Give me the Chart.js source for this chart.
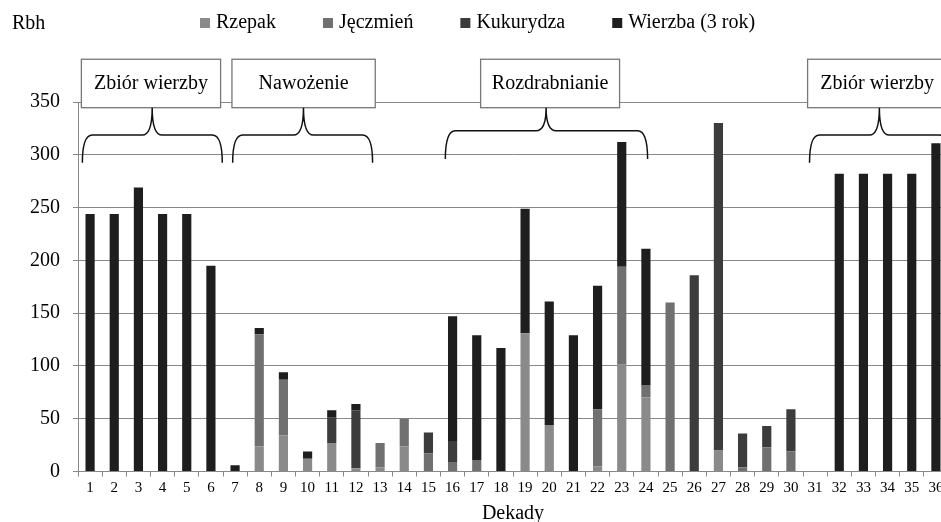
<!DOCTYPE html>
<html>
<head>
<meta charset="utf-8">
<script src="https://cdn.jsdelivr.net/npm/chart.js@4/dist/chart.umd.min.js"></script>
<style>
  html, body { margin: 0; padding: 0; background: #fff; overflow: hidden; }
</style>
</head>
<body>
<canvas id="rbhChart" width="950" height="522"></canvas>
<script>
// Dekady (1..36)
const dekady = ['1', '2', '3', '4', '5', '6', '7', '8', '9', '10', '11', '12',
  '13', '14', '15', '16', '17', '18', '19', '20', '21', '22', '23', '24',
  '25', '26', '27', '28', '29', '30', '31', '32', '33', '34', '35', '36'];

// Rbh for each crop
const rzepak = [0, 0, 0, 0, 0, 0, 0, 24, 34, 12, 27, 3,
  4, 24, 0, 0, 0, 0, 131, 44, 0, 5, 101, 70,
  0, 0, 20, 0, 0, 0, 0, 0, 0, 0, 0, 0];
const jeczmien = [0, 0, 0, 0, 0, 0, 0, 106, 53, 0, 0, 0,
  23, 26, 17, 9, 11, 0, 0, 0, 0, 54, 93, 12,
  160, 0, 0, 4, 23, 19, 0, 0, 0, 0, 0, 0];
const kukurydza = [0, 0, 0, 0, 0, 0, 0, 0, 0, 0, 24, 55,
  0, 0, 20, 20, 0, 0, 0, 0, 0, 0, 0, 0,
  0, 186, 310, 32, 20, 40, 0, 0, 0, 0, 0, 0];
const wierzba = [244, 244, 269, 244, 244, 195, 6, 6, 7, 7, 7, 6,
  0, 0, 0, 118, 118, 117, 118, 117, 129, 117, 118, 129,
  0, 0, 0, 0, 0, 0, 0, 282, 282, 282, 282, 311];

const yTicks = [0, 50, 100, 150, 200, 250, 300, 350];

// Annotation boxes with braces (x in category index, y in Rbh)
const notes = [
  { text: 'Zbiór wierzby', box: [-0.36, 5.40], brace: [-0.32, 5.47], tip: 2.57, shoulder: 318.7, end: 292.4 },
  { text: 'Nawożenie', box: [5.87, 11.80], brace: [5.90, 11.69], tip: 8.83, shoulder: 318.7, end: 292.4 },
  { text: 'Rozdrabnianie', box: [16.16, 21.91], brace: [14.70, 23.07], tip: 18.87, shoulder: 322.8, end: 295.9 },
  { text: 'Zbiór wierzby', box: [29.69, 35.45], brace: [29.77, 35.56], tip: 32.66, shoulder: 318.7, end: 292.4 }
];
const boxTop = 390.5;
const boxBottom = 344.6;

const FONT = "'Liberation Serif', 'Times New Roman', serif";
Chart.defaults.font.family = FONT;
Chart.defaults.color = '#000';

function drawBrace(ctx, x0, x1, xt, yT, yS, yE) {
  const r = 10;
  ctx.beginPath();
  ctx.moveTo(x0, yE);
  ctx.quadraticCurveTo(x0, yS, x0 + r, yS);
  ctx.lineTo(xt - r, yS);
  ctx.quadraticCurveTo(xt, yS, xt, yT);
  ctx.quadraticCurveTo(xt, yS, xt + r, yS);
  ctx.lineTo(x1 - r, yS);
  ctx.quadraticCurveTo(x1, yS, x1, yE);
  ctx.stroke();
}

const notesPlugin = {
  id: 'notes',
  afterDatasetsDraw(chart) {
    const { ctx, scales: { x, y } } = chart;
    ctx.save();
    notes.forEach(n => {
      const bl = x.getPixelForValue(n.box[0]);
      const br = x.getPixelForValue(n.box[1]);
      const bt = y.getPixelForValue(boxTop);
      const bb = y.getPixelForValue(boxBottom);
      ctx.fillStyle = '#fff';
      ctx.fillRect(bl, bt, br - bl, bb - bt);
      ctx.strokeStyle = '#777';
      ctx.lineWidth = 1.3;
      ctx.strokeRect(bl, bt, br - bl, bb - bt);
      ctx.fillStyle = '#000';
      ctx.font = '20px ' + FONT;
      ctx.textAlign = 'center';
      ctx.textBaseline = 'middle';
      ctx.fillText(n.text, (bl + br) / 2, (bt + bb) / 2);

      ctx.strokeStyle = '#111';
      ctx.lineWidth = 1.5;
      drawBrace(ctx,
        x.getPixelForValue(n.brace[0]), x.getPixelForValue(n.brace[1]),
        x.getPixelForValue(n.tip), bb,
        y.getPixelForValue(n.shoulder), y.getPixelForValue(n.end));
    });
    ctx.restore();
  },
  afterDraw(chart) {
    const ctx = chart.ctx;
    ctx.save();
    ctx.font = '20px ' + FONT;
    ctx.textBaseline = 'middle';
    ctx.textAlign = 'left';
    ctx.fillStyle = '#000';
    ctx.fillText('Rbh', 12, 24);
    // legend
    let lx = 200;
    chart.data.datasets.forEach(ds => {
      ctx.fillStyle = ds.backgroundColor;
      ctx.fillRect(lx, 18, 10, 10);
      ctx.fillStyle = '#000';
      ctx.fillText(ds.label, lx + 16, 23);
      lx += 16 + ctx.measureText(ds.label).width + 47;
    });
    ctx.restore();
  }
};

const ctx = document.getElementById('rbhChart').getContext('2d');
new Chart(ctx, {
  type: 'bar',
  data: {
    labels: dekady,
    datasets: [
      { label: 'Rzepak', data: rzepak, backgroundColor: '#8a8a8a' },
      { label: 'Jęczmień', data: jeczmien, backgroundColor: '#707070' },
      { label: 'Kukurydza', data: kukurydza, backgroundColor: '#3c3c3c' },
      { label: 'Wierzba (3 rok)', data: wierzba, backgroundColor: '#1e1e1e' }
    ]
  },
  options: {
    responsive: false,
    animation: false,
    layout: { padding: { left: 19, right: 2, top: 102, bottom: -3.5 } },
    datasets: { bar: { categoryPercentage: 1, barPercentage: 0.38 } },
    plugins: {
      legend: { display: false },
      tooltip: { enabled: false }
    },
    scales: {
      x: {
        stacked: true,
        grid: { drawOnChartArea: false, color: '#888', tickLength: 5 },
        border: { color: '#888' },
        ticks: { font: { size: 15 }, color: '#000', padding: 3, maxRotation: 0, autoSkip: false },
        title: { display: true, text: 'Dekady', font: { size: 20 }, color: '#000', padding: { top: 1, bottom: 0 } }
      },
      y: {
        stacked: true,
        min: 0,
        max: 350,
        afterFit(scale) { scale.width = 59; },
        afterBuildTicks(scale) { scale.ticks = yTicks.map(v => ({ value: v })); },
        grid: { color: '#888', tickLength: 5 },
        border: { color: '#888' },
        ticks: { font: { size: 20 }, color: '#000', padding: 13 }
      }
    }
  },
  plugins: [notesPlugin]
});
</script>
</body>
</html>
